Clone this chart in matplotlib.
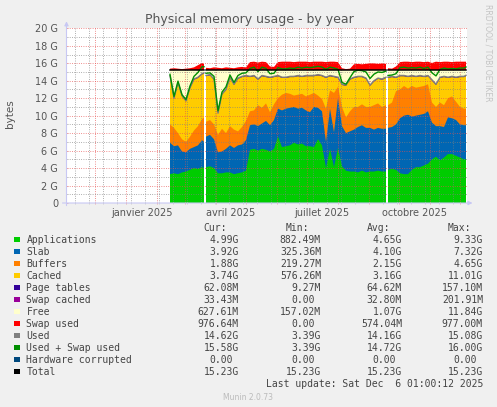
import numpy as np
import matplotlib
matplotlib.use("Agg")
from matplotlib import pyplot as plt
from matplotlib.patches import Rectangle

nan = np.nan

# days since 1 Jan 2025, nan rows mark the holes in the data
days = [44, 48, 52, 56, 60, 64, 68, 72, 76, 78,
        79,
        80, 84, 88, 92, 96, 100, 104, 108, 112, 116, 120,
        124, 128, 132, 136, 140, 144, 148, 152, 156, 160, 164, 168,
        172, 176, 180, 184, 188, 192, 196, 200, 204, 208, 212, 216,
        220, 224, 228, 232, 236, 240, 244, 248, 252, 256, 260,
        261,
        262, 266, 270, 274, 278, 282, 286, 290, 294, 298, 302, 306,
        310, 314, 318, 322, 326, 330, 334, 338, 340]

# values in GiB
apps = [3.30, 3.40, 3.30, 3.50, 3.60, 3.80, 4.00, 3.90, 4.10, 4.00,
        nan,
        4.10, 4.20, 4.00, 3.40, 3.40, 3.50, 3.50, 3.30, 3.40, 3.50, 3.70,
        6.10, 6.20, 6.00, 6.20, 6.10, 5.90, 6.20, 7.60, 6.40, 6.50, 6.60, 6.90,
        6.70, 6.80, 6.50, 6.50, 6.40, 7.30, 6.60, 4.00, 6.20, 4.10, 6.30, 4.20,
        3.70, 3.60, 3.60, 3.50, 3.70, 3.50, 3.60, 3.60, 3.70, 3.60, 3.60,
        nan,
        3.80, 3.90, 3.80, 3.40, 3.30, 3.30, 3.80, 4.10, 4.10, 4.30, 4.50, 5.00,
        5.30, 4.90, 5.20, 5.60, 5.60, 5.40, 5.20, 5.00, 4.99]

slab = [3.60, 3.10, 3.30, 2.40, 2.20, 2.40, 2.40, 2.70, 3.10, 3.00,
        nan,
        3.50, 3.60, 3.30, 2.40, 2.50, 2.70, 3.10, 3.00, 3.20, 3.20, 3.50,
        2.80, 2.80, 2.80, 2.90, 3.30, 3.00, 3.30, 3.20, 4.20, 4.30, 4.30, 4.10,
        4.10, 4.10, 4.10, 3.90, 4.60, 3.60, 3.90, 3.00, 4.60, 4.00, 5.70, 4.60,
        4.30, 4.60, 4.80, 5.20, 5.20, 5.10, 5.00, 4.80, 4.90, 4.90, 4.90,
        nan,
        4.80, 4.80, 5.20, 6.30, 6.70, 6.80, 6.10, 5.90, 6.00, 5.90, 6.00, 4.20,
        3.50, 3.90, 3.50, 4.20, 4.10, 4.10, 3.80, 3.90, 3.92]

buffers = [2.10, 2.10, 1.40, 1.40, 1.20, 1.40, 1.90, 2.20, 2.40, 2.80,
           nan,
           1.70, 1.70, 1.70, 2.00, 2.60, 1.80, 2.20, 2.10, 1.60, 2.00, 2.20,
           1.60, 1.60, 2.40, 1.80, 2.00, 1.50, 1.80, 1.20, 1.80, 1.80, 1.60, 1.30,
           1.60, 1.60, 1.60, 2.00, 1.60, 1.40, 1.40, 3.80, 2.10, 4.50, 1.30, 2.20,
           1.80, 2.30, 2.60, 2.30, 2.40, 2.40, 2.40, 2.80, 2.80, 2.50, 2.70,
           nan,
           2.60, 2.80, 3.80, 3.30, 3.40, 3.00, 3.50, 3.20, 3.20, 3.20, 3.10, 2.30,
           2.20, 2.70, 2.50, 2.20, 2.50, 2.10, 2.00, 1.90, 1.88]

cached = [5.51, 3.31, 5.71, 4.91, 4.61, 5.51, 5.81, 5.51, 5.11, 5.01,
          nan,
          5.21, 5.11, 5.11, 2.41, 3.91, 4.91, 5.51, 5.11, 6.01, 5.71, 5.11,
          3.91, 3.91, 2.91, 3.61, 3.01, 3.91, 3.11, 2.51, 1.91, 1.71, 1.91, 2.11,
          2.11, 1.91, 2.31, 2.11, 1.91, 2.31, 2.61, 3.51, 1.61, 1.81, 1.01, 2.51,
          3.61, 3.61, 3.31, 3.41, 3.11, 3.21, 2.41, 2.71, 2.81, 3.11, 3.11,
          nan,
          3.11, 2.91, 1.51, 1.51, 1.11, 1.31, 1.11, 1.21, 1.21, 1.01, 0.91, 2.51,
          2.51, 2.81, 3.21, 2.31, 2.21, 2.71, 3.41, 3.61, 3.74]

page_tables = [0.05, 0.06, 0.06, 0.05, 0.06, 0.06, 0.07, 0.06, 0.06, 0.06,
               nan,
               0.06, 0.06, 0.07, 0.06, 0.06, 0.06, 0.06, 0.07, 0.06, 0.06, 0.06,
               0.07, 0.06, 0.06, 0.07, 0.06, 0.06, 0.07, 0.06, 0.06, 0.07, 0.06, 0.06,
               0.06, 0.07, 0.06, 0.06, 0.06, 0.07, 0.06, 0.06, 0.07, 0.06, 0.06, 0.06,
               0.06, 0.07, 0.06, 0.06, 0.07, 0.06, 0.06, 0.06, 0.07, 0.06, 0.06,
               nan,
               0.06, 0.06, 0.07, 0.06, 0.06, 0.07, 0.06, 0.06, 0.06, 0.07, 0.06, 0.06,
               0.06, 0.07, 0.06, 0.06, 0.07, 0.06, 0.06, 0.06, 0.06]

swap_cached = [0.02, 0.03, 0.03, 0.04, 0.03, 0.03, 0.02, 0.03, 0.03, 0.03,
               nan,
               0.03, 0.03, 0.02, 0.03, 0.03, 0.03, 0.03, 0.02, 0.03, 0.03, 0.03,
               0.02, 0.03, 0.03, 0.02, 0.03, 0.03, 0.02, 0.03, 0.03, 0.02, 0.03, 0.03,
               0.03, 0.02, 0.03, 0.03, 0.03, 0.02, 0.03, 0.03, 0.02, 0.03, 0.03, 0.03,
               0.03, 0.02, 0.03, 0.03, 0.02, 0.03, 0.03, 0.03, 0.02, 0.03, 0.03,
               nan,
               0.03, 0.03, 0.02, 0.03, 0.03, 0.02, 0.03, 0.03, 0.03, 0.02, 0.03, 0.03,
               0.03, 0.02, 0.03, 0.03, 0.02, 0.03, 0.03, 0.03, 0.03]

swap = [0.15, 0.20, 0.15, 0.10, 0.15, 0.20, 0.30, 0.55, 0.80, 0.70,
        nan,
        0.25, 0.20, 0.30, 0.25, 0.20, 0.30, 0.25, 0.20, 0.30, 0.35, 0.30,
        0.90, 0.95, 0.85, 0.95, 0.90, 0.40, 0.35, 0.90, 0.95, 0.95, 0.95, 0.90,
        0.95, 0.95, 0.95, 0.90, 0.95, 0.95, 0.95, 0.90, 0.95, 0.95, 0.90, 0.20,
        0.10, 0.15, 0.65, 0.70, 0.65, 0.70, 0.75, 0.75, 0.70, 0.75, 0.70,
        nan,
        0.20, 0.15, 0.40, 0.90, 0.95, 0.95, 0.90, 0.95, 0.95, 0.90, 0.95, 0.80,
        0.95, 0.90, 0.95, 0.95, 0.90, 0.95, 0.95, 0.95, 0.95]

total_mem = 15.23

month_starts = [-31, 0, 31, 59, 90, 120, 151, 181, 212, 243, 273, 304, 334]
quarter_labels = ["janvier 2025", "avril 2025", "juillet 2025", "octobre 2025"]
quarter_mid = [15.5, 105, 196, 288]

names = ["Applications", "Slab", "Buffers", "Cached", "Page tables",
         "Swap cached", "Free", "Swap used", "Used", "Used + Swap used",
         "Hardware corrupted", "Total"]
colors = ["#00CC00", "#0066B3", "#FF8000", "#FFCC00", "#330099", "#990099",
          "#FFFFCC", "#FF0000", "#808080", "#008F00", "#00487D", "#000000"]
cur = ["4.99G", "3.92G", "1.88G", "3.74G", "62.08M", "33.43M", "627.61M",
       "976.64M", "14.62G", "15.58G", "0.00 ", "15.23G"]
mins = ["882.49M", "325.36M", "219.27M", "576.26M", "9.27M", "0.00 ",
        "157.02M", "0.00 ", "3.39G", "3.39G", "0.00 ", "15.23G"]
avgs = ["4.65G", "4.10G", "2.15G", "3.16G", "64.62M", "32.80M", "1.07G",
        "574.04M", "14.16G", "14.72G", "0.00 ", "15.23G"]
maxs = ["9.33G", "7.32G", "4.65G", "11.01G", "157.10M", "201.91M", "11.84G",
        "977.00M", "15.08G", "16.00G", "0.00 ", "15.23G"]

W, H = 497, 407


def fx(x):
    return x / W


def fy(y):
    return 1 - y / H


fig = plt.figure(figsize=(W / 100, H / 100), dpi=100, facecolor="#F0F0F0")
ax = fig.add_axes([fx(66.5), fy(203), 400 / W, 174.7 / H])
ax.set_facecolor("white")

x = np.array(days, dtype=float)
parts = [apps, slab, buffers, cached, page_tables, swap_cached]
cum = np.cumsum(np.array(parts, dtype=float), axis=0)
used = cum[-1]
total = np.where(np.isnan(used), nan, total_mem)
swap_a = np.array(swap, dtype=float)

# highest first so the lower layers cover the seams
ax.fill_between(x, 0, total + swap_a, color="#FF0000", lw=0)
ax.fill_between(x, 0, total, color="#FFFFCC", lw=0)
for k in range(len(parts) - 1, -1, -1):
    ax.fill_between(x, 0, cum[k], color=colors[k], lw=0)

ax.plot(x, used, color="#808080", lw=1, zorder=3)
ax.plot(x, used + swap_a, color="#008F00", lw=1, zorder=3)
ax.plot(x, total, color="#000000", lw=1.1, zorder=3)

ax.set_xlim(-59.5, 340.5)
ax.set_ylim(0, 20)
ax.set_xticks(month_starts)
ax.set_xticks(list(range(-51, 341, 14)), minor=True)
ax.set_yticks(range(0, 21, 2))
ax.set_yticks(range(1, 20, 2), minor=True)
ax.set_xticklabels([])
ax.set_yticklabels(["0"] + [f"{v} G" for v in range(2, 21, 2)])
ax.set_axisbelow(False)
ax.grid(which="major", color=(0.9, 0.3, 0.3, 0.32), linestyle=(0, (1, 2)), lw=0.55)
ax.grid(which="minor", color=(0.5, 0.5, 0.5, 0.3), linestyle=(0, (1, 2)), lw=0.55)
ax.tick_params(which="both", length=2, width=0.6, direction="inout",
               labelsize=7, labelcolor="#555555", pad=5)
ax.tick_params(which="major", color="#E8A0A0")
ax.tick_params(which="minor", color="#C8C8C8")
for s in ax.spines.values():
    s.set_visible(False)

for lab, pos in zip(quarter_labels, quarter_mid):
    ax.text(pos, -0.055, lab, transform=ax.get_xaxis_transform(),
            ha="center", va="center", fontsize=7, color="#555555")

# rrdtool style axes with arrows
axis_col = "#C8C8F4"
ax.annotate("", xy=(0, 1.04), xytext=(0, -0.015), xycoords="axes fraction",
            arrowprops=dict(arrowstyle="-|>", color=axis_col, lw=0.8,
                            mutation_scale=6, shrinkA=0, shrinkB=0),
            annotation_clip=False)
ax.annotate("", xy=(1.015, 0), xytext=(-0.01, 0), xycoords="axes fraction",
            arrowprops=dict(arrowstyle="-|>", color=axis_col, lw=0.8,
                            mutation_scale=6, shrinkA=0, shrinkB=0),
            annotation_clip=False)

fig.text(fx(249), fy(19.5), "Physical memory usage - by year", ha="center",
         va="center", fontsize=9, color="#555555")
fig.text(fx(10), fy(114), "bytes", rotation=90, ha="center", va="center",
         fontsize=7.5, color="#555555")
fig.text(fx(488), fy(4), "RRDTOOL / TOBI OETIKER", rotation=270, ha="center",
         va="top", fontsize=5.5, color="#C4C4C4")

# legend
mono = dict(family="DejaVu Sans Mono", fontsize=7, color="#444444", va="center")
cw = 5.9
col_right = [239, 321, 402, 483]
for xr, head in zip(col_right, ["Cur:", "Min:", "Avg:", "Max:"]):
    fig.text(fx(xr - 2 * cw), fy(227.7), head, ha="right", **mono)
for i, name in enumerate(names):
    y = 239.7 + 12 * i
    fig.patches.append(Rectangle((fx(14.2), fy(y + 2.7)), 5.4 / W, 5.4 / H,
                                 transform=fig.transFigure, color=colors[i],
                                 lw=0))
    fig.text(fx(26.5), fy(y), name, ha="left", **mono)
    for xr, col in zip(col_right, [cur, mins, avgs, maxs]):
        s = col[i]
        shift = cw if s.endswith(" ") else 0
        fig.text(fx(xr - shift), fy(y), s.strip(), ha="right", **mono)
fig.text(fx(483), fy(383.7), "Last update: Sat Dec  6 01:00:12 2025",
         ha="right", **mono)
fig.text(fx(248), fy(397.7), "Munin 2.0.73", ha="center", va="center",
         fontsize=5.5, color="#BBBBBB")

fig.savefig("out.png", dpi=100, facecolor=fig.get_facecolor())
